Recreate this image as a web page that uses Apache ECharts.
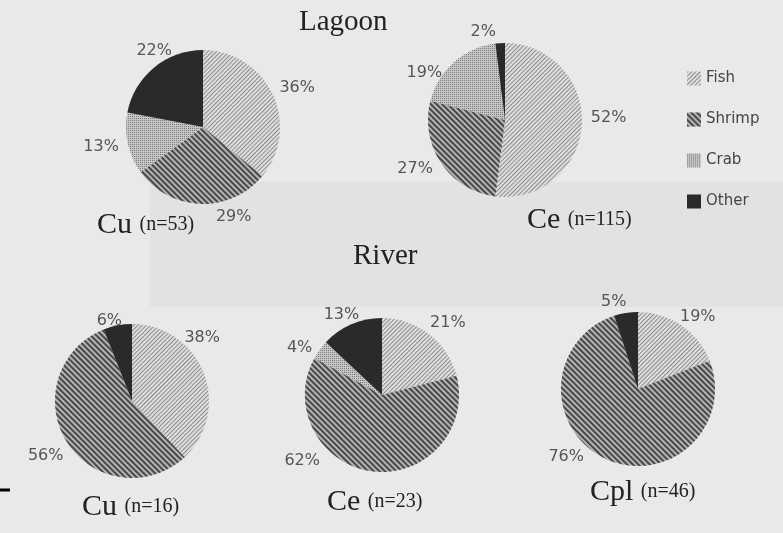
<!DOCTYPE html>
<html>
<head>
<meta charset="utf-8">
<script src="https://cdn.jsdelivr.net/npm/echarts@6/dist/echarts.min.js"></script>
<style>
  html, body { margin: 0; padding: 0; background: #e9e9e9; }
  #chart { width: 783px; height: 533px; }
</style>
</head>
<body>
<div id="chart"></div>
<script>
// 食物类别
const categories = ['Fish', 'Shrimp', 'Crab', 'Other']
// 各饼图名称与样本量
const pieNames = ['Cu', 'Ce', 'Cu', 'Ce', 'Cpl']
const pieN = [53, 115, 16, 23, 46]
// 百分比 (顺序同 pieNames)
const fishPct = [36, 52, 38, 21, 19]
const shrimpPct = [29, 27, 56, 62, 76]
const crabPct = [13, 19, 0, 4, 0]
const otherPct = [22, 2, 6, 13, 5]

// 布局 (像素)
const centers = [[203, 127], [505, 120], [132, 401], [382, 395], [638, 389]]
const subPos = [[92, 205], [522, 200], [77, 487], [322, 482], [585, 472]]
const radius = 77
// 标签微调 [dx, dy]，顺序同 categories
const labelNudge = [
  [[-1, -5], [56, 10], [-1, 2], [25, -15]],
  [[1, -7], [-1, 4], [-5, 13], [1, -8]],
  [[-27, -34], [4, 12], [0, 0], [10, -2]],
  [[-6, -9], [-47, -14], [0, 0], [14, -7]],
  [[-8, -6], [-15, -5], [0, 0], [6, -8]],
]

// 填充样式
const styles = {
  Fish: {
    color: '#dedede',
    decal: { symbol: 'rect', symbolSize: 1, color: '#8c8c8c', dashArrayX: [1, 0], dashArrayY: [1, 2], rotation: -Math.PI / 4 },
  },
  Shrimp: {
    color: '#b4b4b4',
    decal: { symbol: 'rect', symbolSize: 1, color: '#484848', dashArrayX: [1, 0], dashArrayY: [2, 2], rotation: Math.PI / 4 },
  },
  Crab: {
    color: '#c6c6c6',
    decal: { symbol: 'rect', symbolSize: 1, color: '#7a7a7a', dashArrayX: [1, 1], dashArrayY: [1, 1], rotation: 0 },
  },
  Other: { color: '#2a2a2a' },
}

const series = pieNames.map((name, i) => {
  const values = [fishPct[i], shrimpPct[i], crabPct[i], otherPct[i]]
  return {
    name: name + i,
    type: 'pie',
    center: centers[i],
    radius: radius,
    startAngle: 90,
    clockwise: true,
    avoidLabelOverlap: false,
    silent: true,
    itemStyle: { borderWidth: 0 },
    label: {
      show: true,
      position: 'outside',
      formatter: (p) => (p.value > 0 ? p.value + '%' : ''),
      fontFamily: 'DejaVu Sans',
      fontSize: 16,
      color: '#555',
    },
    labelLine: { show: false, length: 3, length2: 0 },
    labelLayout: (p) => {
      const d = labelNudge[i][p.dataIndex]
      return { dx: d[0], dy: d[1] }
    },
    data: categories.map((c, k) => ({
      name: c,
      value: values[k],
      itemStyle: styles[c].decal
        ? { color: styles[c].color, decal: styles[c].decal }
        : { color: styles[c].color },
    })),
  }
})

const serif = { fontFamily: 'Liberation Serif', fontWeight: 'normal', color: '#222' }
const titles = [
  { text: 'Lagoon', left: 294, top: 3, textStyle: { ...serif, fontSize: 29 } },
  { text: 'River', left: 348, top: 237, textStyle: { ...serif, fontSize: 29 } },
].concat(pieNames.map((name, i) => ({
  text: '{a|' + name + '} {b|(n=' + pieN[i] + ')}',
  left: subPos[i][0],
  top: subPos[i][1],
  textStyle: {
    ...serif,
    fontSize: 30,
    rich: {
      a: { ...serif, fontSize: 30 },
      b: { ...serif, fontSize: 20 },
    },
  },
})))

const chart = echarts.init(document.getElementById('chart'))
chart.setOption({
  backgroundColor: '#e9e9e9',
  animation: false,
  title: titles,
  legend: {
    data: categories,
    orient: 'vertical',
    left: 682,
    top: 66,
    icon: 'rect',
    itemWidth: 14,
    itemHeight: 14,
    itemGap: 26,
    textStyle: { fontFamily: 'DejaVu Sans', fontSize: 15, color: '#444' },
    selectedMode: false,
  },
  graphic: [
    { type: 'rect', z: -10, shape: { x: 150, y: 182, width: 633, height: 125 }, style: { fill: '#e2e2e2' } },
    { type: 'line', shape: { x1: 0, y1: 490, x2: 10, y2: 490 }, style: { stroke: '#000', lineWidth: 3 } },
  ],
  series: series,
})
</script>
</body>
</html>
